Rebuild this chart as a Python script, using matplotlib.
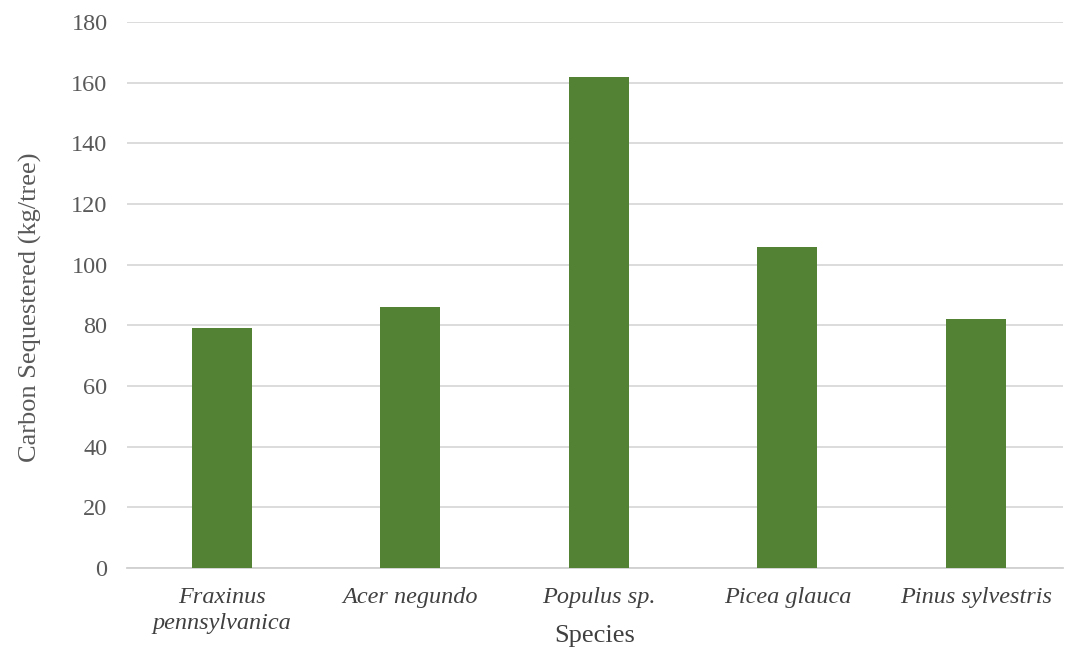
import matplotlib.pyplot as plt
import numpy as np

species = ['Fraxinus\npennsylvanica', 'Acer negundo', 'Populus sp.', 'Picea glauca', 'Pinus sylvestris']
carbon = [79, 86, 162, 106, 82]
y_ticks = list(range(0, 181, 20))

plt.rcParams['font.family'] = ['Liberation Serif', 'DejaVu Serif']

fig = plt.figure(figsize=(10.65, 6.5), dpi=100)
ax = fig.add_axes([0.1192, 0.1262, 0.8788, 0.8398])

x = np.arange(len(species))
ax.bar(x, carbon, width=0.318, color='#548235', zorder=3)

ax.set_xlim(-0.502, 4.46)
ax.set_ylim(0, 180)
ax.set_yticks(y_ticks)
ax.set_yticklabels([str(v) for v in y_ticks], fontsize=17.5, color='#595959')
ax.set_xticks(x)
ax.set_xticklabels(species, fontsize=17.5, style='italic', color='#404040', linespacing=1.3)
ax.tick_params(axis='both', length=0)
ax.tick_params(axis='y', pad=14)
ax.tick_params(axis='x', pad=14)

ax.grid(axis='y', color='#d9d9d9', linewidth=1.3, zorder=0)
for s in ['top', 'right', 'left']:
    ax.spines[s].set_visible(False)
ax.spines['bottom'].set_color('#d0d0d0')
ax.spines['bottom'].set_linewidth(1.3)

ax.set_xlabel('Species', fontsize=19, color='#404040')
ax.xaxis.set_label_coords(0.5, -0.104)
ax.set_ylabel('Carbon Sequestered (kg/tree)', fontsize=19, color='#595959')
ax.yaxis.set_label_coords(-0.091, 0.478)

fig.savefig('out.png', dpi=100)
